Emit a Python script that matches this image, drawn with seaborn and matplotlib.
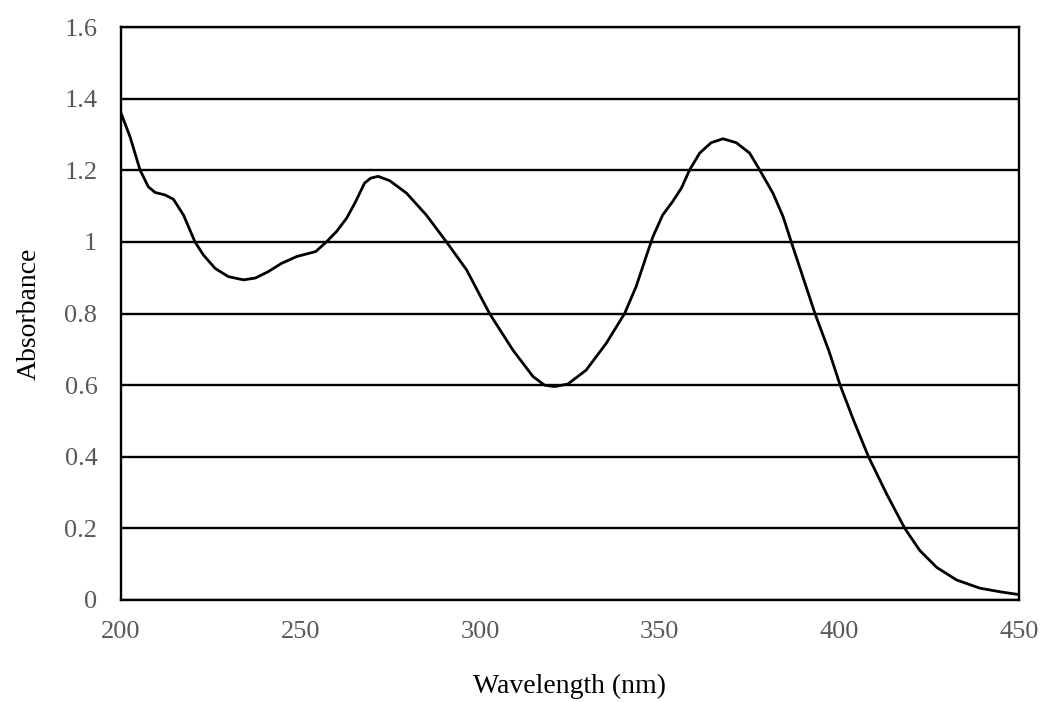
import pandas as pd
import numpy as np
import matplotlib
matplotlib.use("Agg")
import matplotlib.pyplot as plt
import seaborn as sns

# Absorbance spectrum
wavelength = [200, 202.5, 205.3, 207.6, 209.5, 212.3, 214.6, 217.4, 220.6, 222.9,
              226.2, 229.9, 234.1, 237.4, 241, 244.7, 248.9, 254.2, 257.2, 260,
              262.8, 265.1, 267.8, 269.5, 271.6, 274.8, 279.5, 285, 290.6, 296.2,
              302.6, 309.1, 314.7, 317.9, 320.7, 324.4, 329.5, 335.1, 340.2, 343.4,
              346.2, 348.1, 350.8, 353.6, 356, 358.3, 361.1, 364.3, 367.6, 371.3,
              375, 377.8, 381.5, 384.3, 386.6, 389.8, 393.2, 397.2, 400.2, 403.9,
              408.1, 413.2, 418.2, 422.4, 427.1, 432.6, 439.1, 444.7, 450]
absorbance = [1.36, 1.294, 1.201, 1.154, 1.138, 1.131, 1.119, 1.075, 1.0, 0.964,
              0.926, 0.903, 0.894, 0.899, 0.917, 0.940, 0.959, 0.973, 1.0, 1.029,
              1.066, 1.108, 1.164, 1.178, 1.183, 1.171, 1.136, 1.075, 1.0, 0.922,
              0.80, 0.698, 0.624, 0.60, 0.596, 0.603, 0.642, 0.717, 0.80, 0.875,
              0.959, 1.015, 1.075, 1.113, 1.15, 1.201, 1.248, 1.277, 1.288, 1.277,
              1.248, 1.201, 1.136, 1.071, 1.0, 0.903, 0.80, 0.692, 0.60, 0.503,
              0.40, 0.295, 0.20, 0.138, 0.091, 0.056, 0.033, 0.023, 0.015]

x_ticks = [200, 250, 300, 350, 400, 450]
y_ticks = [0, 0.2, 0.4, 0.6, 0.8, 1, 1.2, 1.4, 1.6]
y_labels = ["0", "0.2", "0.4", "0.6", "0.8", "1", "1.2", "1.4", "1.6"]

df = pd.DataFrame({"wavelength": wavelength, "absorbance": absorbance})

sns.set_style("white")
plt.rcParams["font.family"] = ["Liberation Serif", "DejaVu Serif"]

fig = plt.figure(figsize=(10.43, 7.02), dpi=100)
ax = fig.add_axes([0.116, 0.1453, 0.861, 0.8162])

sns.lineplot(data=df, x="wavelength", y="absorbance", color="black",
             linewidth=2.0, ax=ax, zorder=3)

ax.set_xlim(200, 450)
ax.set_ylim(0, 1.6)
ax.set_xticks(x_ticks)
ax.set_yticks(y_ticks)
ax.set_yticklabels(y_labels)
ax.yaxis.grid(True, color="black", linewidth=1.7)
ax.xaxis.grid(False)
for s in ax.spines.values():
    s.set_color("black")
    s.set_linewidth(1.7)
ax.tick_params(axis="both", length=0, labelsize=19, labelcolor="#595959")
ax.tick_params(axis="x", pad=15)
ax.tick_params(axis="y", pad=17)

ax.set_xlabel("Wavelength (nm)", fontsize=20, color="black", labelpad=22)
ax.set_ylabel("Absorbance", fontsize=20, color="black", labelpad=16)

fig.savefig("out.png", dpi=100)
